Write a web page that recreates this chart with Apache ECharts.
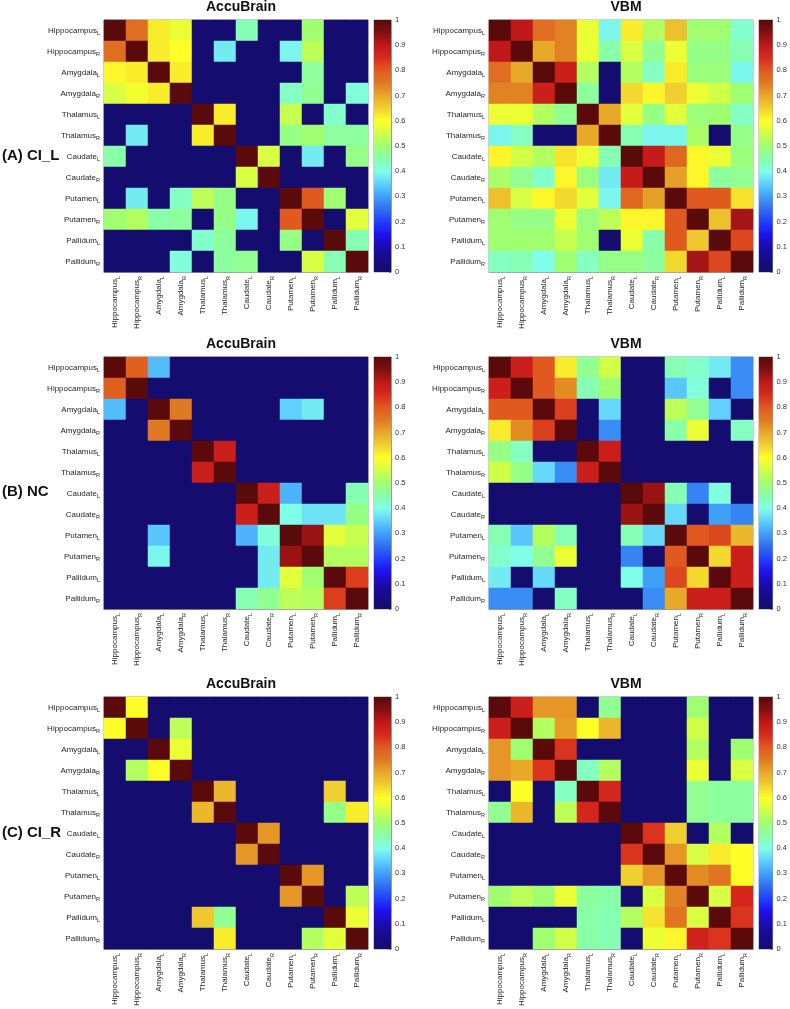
<!DOCTYPE html>
<html>
<head>
<meta charset="utf-8">
<script src="https://cdn.jsdelivr.net/npm/echarts@6/dist/echarts.min.js"></script>
<style>
html,body{margin:0;padding:0;background:#fff;}
#chart{width:790px;height:1009px;}
</style>
</head>
<body>
<div id="chart"></div>
<script>
// ---------------- DATA ----------------
const CATEGORIES = ['Hippocampus_L','Hippocampus_R','Amygdala_L','Amygdala_R','Thalamus_L','Thalamus_R',
  'Caudate_L','Caudate_R','Putamen_L','Putamen_R','Pallidum_L','Pallidum_R'];

const PANEL_TITLES = ['AccuBrain', 'VBM'];
const ROW_LABELS = ['(A) CI_L', '(B) NC', '(C) CI_R'];

// rows top -> bottom, columns left -> right
const ACCU_CIL = [
  [1, 0.77, 0.62, 0.58, 0, 0, 0.44, 0, 0, 0.50, 0, 0],
  [0.77, 1, 0.62, 0.60, 0, 0.38, 0, 0, 0.39, 0.53, 0, 0],
  [0.61, 0.62, 1, 0.62, 0, 0, 0, 0, 0, 0.46, 0, 0],
  [0.56, 0.59, 0.62, 1, 0, 0, 0, 0, 0.43, 0.47, 0, 0.41],
  [0, 0, 0, 0, 1, 0.62, 0, 0, 0.54, 0, 0.42, 0],
  [0, 0.38, 0, 0, 0.62, 1, 0, 0, 0.48, 0.50, 0.46, 0.46],
  [0.45, 0, 0, 0, 0, 0, 1, 0.56, 0, 0.38, 0, 0.48],
  [0, 0, 0, 0, 0, 0, 0.56, 1, 0, 0, 0, 0],
  [0, 0.38, 0, 0.43, 0.53, 0.48, 0, 0, 1, 0.80, 0.50, 0],
  [0.50, 0.52, 0.45, 0.46, 0, 0.48, 0.39, 0, 0.80, 1, 0, 0.57],
  [0, 0, 0, 0, 0.42, 0.46, 0, 0, 0.48, 0, 1, 0.44],
  [0, 0, 0, 0.41, 0, 0.46, 0.47, 0, 0, 0.56, 0.44, 1]
];
const VBM_CIL = [
  [1, 0.90, 0.77, 0.74, 0.58, 0.39, 0.62, 0.52, 0.67, 0.50, 0.50, 0.42],
  [0.90, 1, 0.70, 0.74, 0.58, 0.45, 0.56, 0.47, 0.58, 0.48, 0.48, 0.44],
  [0.77, 0.70, 1, 0.88, 0.52, 0, 0.52, 0.43, 0.62, 0.49, 0.49, 0.39],
  [0.74, 0.74, 0.88, 1, 0.46, 0, 0.64, 0.61, 0.65, 0.58, 0.55, 0.50],
  [0.58, 0.58, 0.52, 0.47, 1, 0.70, 0.57, 0.48, 0.57, 0.49, 0.50, 0.43],
  [0.39, 0.43, 0, 0, 0.70, 1, 0.44, 0.39, 0.39, 0.51, 0, 0.48],
  [0.61, 0.55, 0.52, 0.63, 0.58, 0.44, 1, 0.89, 0.78, 0.61, 0.58, 0.49],
  [0.51, 0.47, 0.42, 0.61, 0.49, 0.38, 0.89, 1, 0.71, 0.61, 0.46, 0.47],
  [0.67, 0.56, 0.61, 0.64, 0.57, 0.39, 0.78, 0.71, 1, 0.80, 0.80, 0.63],
  [0.50, 0.48, 0.48, 0.58, 0.49, 0.53, 0.61, 0.61, 0.80, 1, 0.67, 0.92],
  [0.50, 0.50, 0.50, 0.54, 0.50, 0, 0.58, 0.45, 0.80, 0.66, 1, 0.82],
  [0.43, 0.44, 0.40, 0.50, 0.43, 0.48, 0.48, 0.46, 0.64, 0.92, 0.82, 1]
];
const ACCU_NC = [
  [1, 0.79, 0.33, 0, 0, 0, 0, 0, 0, 0, 0, 0],
  [0.79, 1, 0, 0, 0, 0, 0, 0, 0, 0, 0, 0],
  [0.33, 0, 1, 0.75, 0, 0, 0, 0, 0.35, 0.38, 0, 0],
  [0, 0, 0.75, 1, 0, 0, 0, 0, 0, 0, 0, 0],
  [0, 0, 0, 0, 1, 0.88, 0, 0, 0, 0, 0, 0],
  [0, 0, 0, 0, 0.88, 1, 0, 0, 0, 0, 0, 0],
  [0, 0, 0, 0, 0, 0, 1, 0.88, 0.32, 0, 0, 0.44],
  [0, 0, 0, 0, 0, 0, 0.88, 1, 0.40, 0.37, 0.37, 0.48],
  [0, 0, 0.34, 0, 0, 0, 0.32, 0.41, 1, 0.93, 0.57, 0.54],
  [0, 0, 0.39, 0, 0, 0, 0, 0.38, 0.93, 1, 0.52, 0.52],
  [0, 0, 0, 0, 0, 0, 0, 0.38, 0.57, 0.50, 1, 0.83],
  [0, 0, 0, 0, 0, 0, 0.44, 0.47, 0.53, 0.52, 0.83, 1]
];
const VBM_NC = [
  [1, 0.88, 0.80, 0.62, 0.47, 0.55, 0, 0, 0.44, 0.42, 0.38, 0.28],
  [0.88, 1, 0.80, 0.73, 0.44, 0.50, 0, 0, 0.34, 0.41, 0, 0.28],
  [0.80, 0.80, 1, 0.83, 0, 0.36, 0, 0, 0.53, 0.47, 0.35, 0],
  [0.62, 0.73, 0.83, 1, 0, 0.28, 0, 0, 0.45, 0.58, 0, 0.43],
  [0.48, 0.43, 0, 0, 1, 0.88, 0, 0, 0, 0, 0, 0],
  [0.55, 0.48, 0.36, 0.28, 0.88, 1, 0, 0, 0, 0, 0, 0],
  [0, 0, 0, 0, 0, 0, 1, 0.93, 0.44, 0.27, 0.41, 0],
  [0, 0, 0, 0, 0, 0, 0.93, 1, 0.36, 0, 0.30, 0.27],
  [0.44, 0.34, 0.52, 0.44, 0, 0, 0.44, 0.36, 1, 0.80, 0.82, 0.68],
  [0.42, 0.40, 0.47, 0.58, 0, 0, 0.27, 0, 0.80, 1, 0.64, 0.88],
  [0.38, 0, 0.36, 0, 0, 0, 0.40, 0.30, 0.82, 0.64, 1, 0.88],
  [0.28, 0.28, 0, 0.43, 0, 0, 0, 0.28, 0.70, 0.88, 0.88, 1]
];
const ACCU_CIR = [
  [1, 0.60, 0, 0, 0, 0, 0, 0, 0, 0, 0, 0],
  [0.60, 1, 0, 0.53, 0, 0, 0, 0, 0, 0, 0, 0],
  [0, 0, 1, 0.58, 0, 0, 0, 0, 0, 0, 0, 0],
  [0, 0.52, 0.60, 1, 0, 0, 0, 0, 0, 0, 0, 0],
  [0, 0, 0, 0, 1, 0.68, 0, 0, 0, 0, 0.65, 0],
  [0, 0, 0, 0, 0.68, 1, 0, 0, 0, 0, 0.48, 0.62],
  [0, 0, 0, 0, 0, 0, 1, 0.72, 0, 0, 0, 0],
  [0, 0, 0, 0, 0, 0, 0.72, 1, 0, 0, 0, 0],
  [0, 0, 0, 0, 0, 0, 0, 0, 1, 0.72, 0, 0],
  [0, 0, 0, 0, 0, 0, 0, 0, 0.72, 1, 0, 0.53],
  [0, 0, 0, 0, 0.66, 0.47, 0, 0, 0, 0, 1, 0.58],
  [0, 0, 0, 0, 0, 0.62, 0, 0, 0, 0.52, 0.57, 1]
];
const VBM_CIR = [
  [1, 0.88, 0.72, 0.72, 0, 0.47, 0, 0, 0, 0.50, 0, 0],
  [0.88, 1, 0.52, 0.71, 0.60, 0.68, 0, 0, 0, 0.55, 0, 0],
  [0.72, 0.50, 1, 0.84, 0, 0, 0, 0, 0, 0.52, 0, 0.50],
  [0.72, 0.70, 0.84, 1, 0.43, 0.52, 0, 0, 0, 0.58, 0, 0.56],
  [0, 0.60, 0, 0.43, 1, 0.86, 0, 0, 0, 0.47, 0.46, 0.46],
  [0.47, 0.68, 0, 0.53, 0.86, 1, 0, 0, 0, 0.47, 0.46, 0.46],
  [0, 0, 0, 0, 0, 0, 1, 0.84, 0.65, 0, 0.52, 0],
  [0, 0, 0, 0, 0, 0, 0.84, 1, 0.72, 0.56, 0.62, 0.60],
  [0, 0, 0, 0, 0, 0, 0.65, 0.72, 1, 0.73, 0.76, 0.60],
  [0.50, 0.53, 0.50, 0.58, 0.46, 0.45, 0, 0.56, 0.74, 1, 0.56, 0.86],
  [0, 0, 0, 0, 0.45, 0.44, 0.52, 0.63, 0.76, 0.56, 1, 0.84],
  [0, 0, 0.50, 0.55, 0.45, 0.44, 0, 0.58, 0.61, 0.87, 0.84, 1]
];

// ---------------- STYLE ----------------
// colormap sampled from the reference colour bar, equally spaced 0 -> 1 (step 0.05)
const CMAP = ['#140c6e','#160c88','#1a0cb0','#2010f0','#2040ff','#3070f0','#40a0f8','#60d0ff','#80ffe8','#88ffa8',
  '#a0ff70','#d0ff48','#ffff28','#f0d030','#e8a828','#e07a22','#e05a20','#d82a1e','#c01818','#801010','#5a0a0a'];

const MATRICES = [[ACCU_CIL, VBM_CIL], [ACCU_NC, VBM_NC], [ACCU_CIR, VBM_CIR]];
const ROW_TOPS = [[20, 20], [357, 357], [697, 697]];
const TITLE_Y = [7, 344, 684];
const ROW_LABEL_Y = [156, 492, 833];
const COL_LEFT = [104, 489];
const COL_TITLE_X = [241, 626];
const CB_LEFT = [374, 759];
const GW = 264, GH = 252, CBW = 17;

const chart = echarts.init(document.getElementById('chart'), null, {renderer: 'canvas'});

const labelFmt = v => {
  const p = v.split('_');
  return '{n|' + p[0] + '}{s|' + p[1] + '}';
};
const rich = {
  n: {fontSize: 8, lineHeight: 12, color: '#262626', fontFamily: 'Liberation Sans, Arial, sans-serif'},
  s: {fontSize: 5.5, lineHeight: 6, verticalAlign: 'bottom', color: '#262626', fontFamily: 'Liberation Sans, Arial, sans-serif'}
};

const grid = [], xAxis = [], yAxis = [], series = [], title = [];
const gradStops = CMAP.map((c, i) => ({offset: i / (CMAP.length - 1), color: c}));

let gi = 0;
for (let r = 0; r < 3; r++) {
  for (let c = 0; c < 2; c++) {
    const top = ROW_TOPS[r][c];
    grid.push({left: COL_LEFT[c], top: top, width: GW, height: GH, show: true, borderColor: '#9a9a9a', borderWidth: 1, containLabel: false});
    xAxis.push({
      type: 'category', gridIndex: gi, data: CATEGORIES, position: 'bottom',
      axisLine: {show: true, lineStyle: {color: '#9a9a9a'}},
      axisTick: {show: true, inside: true, alignWithLabel: true, length: 3, lineStyle: {color: '#777'}},
      axisLabel: {rotate: 90, margin: 4, formatter: labelFmt, rich: rich, interval: 0},
      splitLine: {show: false}, splitArea: {show: false}
    });
    yAxis.push({
      type: 'category', gridIndex: gi, data: CATEGORIES, inverse: true,
      axisLine: {show: true, lineStyle: {color: '#9a9a9a'}},
      axisTick: {show: true, inside: true, alignWithLabel: true, length: 3, lineStyle: {color: '#777'}},
      axisLabel: {margin: 4, formatter: labelFmt, rich: rich, interval: 0},
      splitLine: {show: false}, splitArea: {show: false}
    });
    const M = MATRICES[r][c];
    const data = [];
    for (let i = 0; i < M.length; i++) for (let j = 0; j < M[i].length; j++) data.push([j, i, M[i][j]]);
    series.push({type: 'heatmap', xAxisIndex: gi, yAxisIndex: gi, data: data, silent: true, progressive: 0,
      itemStyle: {borderWidth: 0}});
    gi++;
  }
}
const heatCount = gi;
for (let r = 0; r < 3; r++) {
  for (let c = 0; c < 2; c++) {
    const top = ROW_TOPS[r][c];
    grid.push({left: CB_LEFT[c], top: top, width: CBW, height: GH, show: true, borderColor: '#9a9a9a', borderWidth: 1});
    xAxis.push({type: 'category', gridIndex: gi, data: [''], show: false});
    yAxis.push({
      type: 'value', gridIndex: gi, min: 0, max: 1, interval: 0.1, position: 'right',
      axisLine: {show: true, lineStyle: {color: '#9a9a9a'}},
      axisTick: {show: true, inside: true, length: 2, lineStyle: {color: '#777'}},
      axisLabel: {fontSize: 7.5, color: '#333', margin: 4, fontFamily: 'Liberation Sans, Arial, sans-serif'},
      splitLine: {show: false}
    });
    series.push({type: 'bar', xAxisIndex: gi, yAxisIndex: gi, data: [1], barWidth: '100%', silent: true,
      itemStyle: {color: new echarts.graphic.LinearGradient(0, 1, 0, 0, gradStops)}});
    gi++;
  }
}
for (let r = 0; r < 3; r++) {
  for (let c = 0; c < 2; c++) {
    title.push({text: PANEL_TITLES[c], left: COL_TITLE_X[c], top: TITLE_Y[r] - 8, textAlign: 'center', padding: 0,
      textStyle: {fontSize: 14, fontWeight: 'bold', color: '#111', lineHeight: 16, fontFamily: 'Liberation Sans, Arial, sans-serif'}});
  }
  title.push({text: ROW_LABELS[r], left: 2, top: ROW_LABEL_Y[r] - 9, padding: 0,
    textStyle: {fontSize: 15, fontWeight: 'bold', color: '#111', lineHeight: 18, fontFamily: 'Liberation Sans, Arial, sans-serif'}});
}

const seriesIdx = [];
for (let k = 0; k < heatCount; k++) seriesIdx.push(k);

chart.setOption({
  animation: false,
  backgroundColor: '#fff',
  title: title,
  grid: grid,
  xAxis: xAxis,
  yAxis: yAxis,
  visualMap: {type: 'continuous', show: false, min: 0, max: 1, seriesIndex: seriesIdx, inRange: {color: CMAP}},
  series: series
});
</script>
</body>
</html>
